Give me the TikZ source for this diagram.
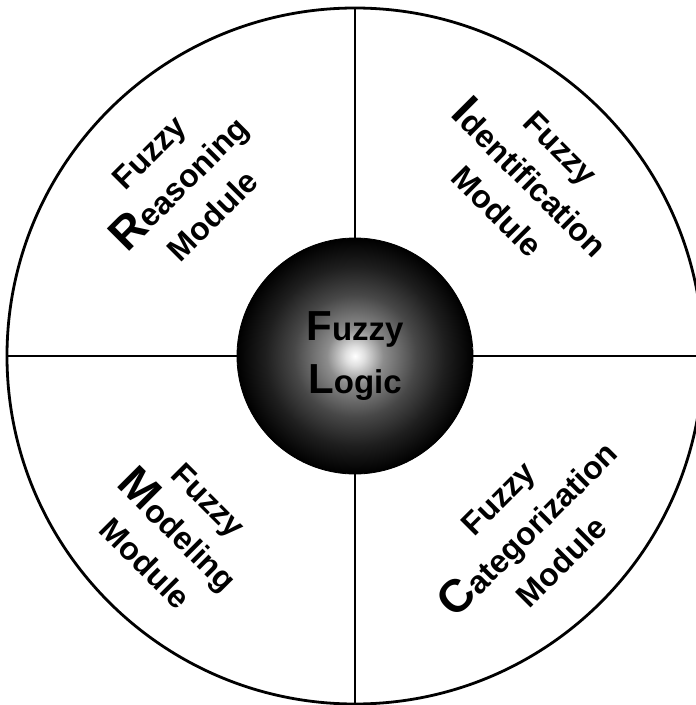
\documentclass[tikz,border=0pt]{standalone}
\usepackage{fontspec}
\setmainfont{Liberation Sans}
\usetikzlibrary{calc}
\pgfdeclareradialshading{fuzzyball}{\pgfpoint{0bp}{0bp}}{color(0bp)=(white); color(2bp)=(black!12); color(6bp)=(black!45); color(13bp)=(black!72); color(19bp)=(black!88); color(25bp)=(black); color(50bp)=(black)}
\tikzset{
  wheel/.style={line width=2.8pt},
  modtext/.style={font=\bfseries\fontsize{32}{45}\selectfont, align=center, inner sep=0pt},
  balltext/.style={font=\bfseries\fontsize{33}{53}\selectfont, align=center}
}
\newcommand{\bigini}[1]{{\fontsize{46}{46}\selectfont #1}}
\newcommand{\ballini}[1]{{\fontsize{42}{42}\selectfont #1}}

\begin{document}
\begin{tikzpicture}[x=1pt, y=1pt]
\useasboundingbox (-355,-349) rectangle (341,356);
% outer wheel
\draw[wheel] (0,0) circle (348);
\coordinate (top) at (0,348);
\coordinate (bottom) at (0,-348);
\coordinate (left) at (-348,0);
\coordinate (right) at (348,0);
% centre ball
\node[circle, minimum size=236, inner sep=0pt, shading=fuzzyball, draw=black, line width=0.8pt, balltext] (logic) at (0,0) {\ballini{F}uzzy\\\ballini{L}ogic};
% spokes
\draw[wheel] (logic.north) -- (top);
\draw[wheel] (logic.south) -- (bottom);
\draw[wheel] (logic.west) -- (left);
\draw[wheel] (logic.east) -- (right);
% modules
\node[modtext, rotate=45] (reason) at (-174,172) {Fuzzy\\\bigini{R}easoning\\Module};
\node[modtext, rotate=-45] (ident) at (174,176) {Fuzzy\\\bigini{I}dentification\\Module};
\node[modtext, rotate=-45] (model) at (-178,-176) {Fuzzy\\\bigini{M}odeling\\Module};
\node[modtext, rotate=45] (categ) at (175,-174) {Fuzzy\\\bigini{C}ategorization\\Module};
\end{tikzpicture}
\end{document}
